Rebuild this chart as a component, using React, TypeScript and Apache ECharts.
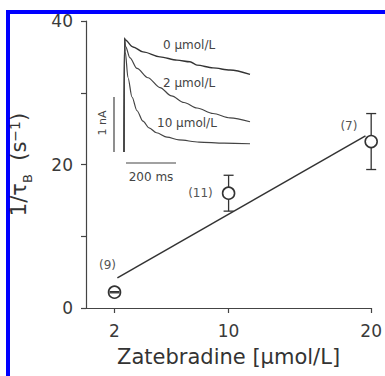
import React, { useEffect, useRef } from 'react';
import * as echarts from 'echarts';

// Main plot data
const xTicks = [2, 10, 20];
const yTicks = [0, 10, 20, 30, 40];
const yLabels = [0, 20, 40];
const conc = [2, 10, 20];
const rate = [2.2, 16.0, 23.2];
const rateErr = [0.08, 2.5, 3.9];
const nCells = [9, 11, 7];
const fitX = [2.2, 19.6];
const fitY = [4.2, 24.0];

// Inset current traces (time in ms, current in nA)
const traceT0 = [0, 2, 4, 36, 76, 144, 212, 264, 292, 356, 424, 504];
const traceV0 = [0, 2.07, 2.04, 1.91, 1.82, 1.73, 1.67, 1.64, 1.58, 1.53, 1.49, 1.41];
const traceT2 = [0, 2, 6, 24, 52, 96, 144, 190, 240, 292, 356, 424, 504];
const traceV2 = [0, 2.07, 1.92, 1.71, 1.52, 1.35, 1.17, 1.02, 0.9, 0.8, 0.7, 0.62, 0.55];
const traceT10 = [0, 2, 5, 16, 32, 52, 76, 100, 130, 172, 220, 300, 400, 504];
const traceV10 = [0, 2.07, 1.82, 1.35, 1.0, 0.75, 0.56, 0.44, 0.35, 0.27, 0.22, 0.18, 0.16, 0.15];
const traceNames = ['0 μmol/L', '2 μmol/L', '10 μmol/L'];

// Scale bars
const barNAt = [-40, -40];
const barNAv = [0, 1];
const barMsT = [8, 208];
const barMsV = [-0.2, -0.2];

const zip = (a: number[], b: number[]) => a.map((v, i) => [v, b[i]]);

export default function App() {
  const ref = useRef<HTMLDivElement>(null);
  useEffect(() => {
    const chart = echarts.init(ref.current!, null, { renderer: 'svg' });
    const font = 'DejaVu Sans';
    const ink = '#333';
    const axisColor = '#444';
    const labelPlace: any[] = [
      { position: 'top', distance: 5, offset: [-7, -9] },
      { position: 'left', distance: 9, offset: [0, 0] },
      { position: 'left', distance: 5, offset: [-2, -16] },
    ];
    const traceStyle = (color: string, w: number) => ({
      type: 'line', xAxisIndex: 1, yAxisIndex: 1, symbol: 'none',
      smooth: 0.3, smoothMonotone: 'x',
      lineStyle: { color, width: w }, silent: true,
    });
    const option: any = {
      animation: false,
      backgroundColor: '#fff',
      grid: [
        { left: 86, top: 21, width: 286, height: 287 },
        { left: 104, top: 31, width: 160, height: 143 },
      ],
      xAxis: [
        {
          type: 'value', gridIndex: 0, min: 0, max: 20,
          name: 'Zatebradine [μmol/L]', nameLocation: 'middle', nameGap: 38,
          nameTextStyle: { fontFamily: font, fontSize: 21, color: ink },
          axisLine: { show: true, onZero: false, lineStyle: { color: axisColor, width: 1.2 } },
          axisTick: { show: true, length: 5, customValues: xTicks, lineStyle: { color: axisColor, width: 1.2 } },
          axisLabel: { customValues: xTicks, margin: 14, fontFamily: font, fontSize: 17, color: '#3a3a3a' },
          splitLine: { show: false },
        },
        { type: 'value', gridIndex: 1, min: -80, max: 560, show: false },
      ],
      yAxis: [
        {
          type: 'value', gridIndex: 0, min: 0, max: 40,
          name: '{a|1/τ}{b|B}{a|  (s}{c|−1}{a|)}', nameLocation: 'middle', nameGap: 52,
          nameTextStyle: {
            fontFamily: font, fontSize: 21, color: ink,
            rich: {
              a: { fontFamily: font, fontSize: 21, color: ink, lineHeight: 26, verticalAlign: 'top' },
              b: { fontFamily: font, fontSize: 13, color: ink, lineHeight: 13, verticalAlign: 'bottom' },
              c: { fontFamily: font, fontSize: 14, color: ink, lineHeight: 14, verticalAlign: 'top' },
            },
          },
          axisLine: { show: true, onZero: false, lineStyle: { color: axisColor, width: 1.2 } },
          axisTick: { show: true, length: 5, customValues: yTicks, lineStyle: { color: axisColor, width: 1.2 } },
          axisLabel: { customValues: yLabels, margin: 13, fontFamily: font, fontSize: 17, color: '#3a3a3a' },
          splitLine: { show: false },
        },
        { type: 'value', gridIndex: 1, min: -0.4, max: 2.2, show: false },
      ],
      series: [
        {
          type: 'line', xAxisIndex: 0, yAxisIndex: 0, symbol: 'none', z: 2,
          data: zip(fitX, fitY), lineStyle: { color: ink, width: 1.5 },
        },
        {
          type: 'scatter', xAxisIndex: 0, yAxisIndex: 0, z: 3,
          symbol: 'circle', symbolSize: 12,
          itemStyle: { color: '#fff', borderColor: ink, borderWidth: 1.6, opacity: 1 },
          data: conc.map((c, i) => ({
            value: [c, rate[i]],
            label: {
              show: true, formatter: `(${nCells[i]})`,
              fontFamily: font, fontSize: 12, color: '#555',
              ...labelPlace[i],
            },
          })),
        },
        {
          type: 'custom', xAxisIndex: 0, yAxisIndex: 0, z: 4,
          data: conc.map((c, i) => [c, rate[i], rateErr[i]]),
          encode: { x: 0, y: 1 },
          renderItem: (params: any, api: any) => {
            const x = api.value(0), y = api.value(1), e = api.value(2);
            const c = api.coord([x, y]);
            const hi = api.coord([x, y + e]);
            const lo = api.coord([x, y - e]);
            const r = 6, w = 5;
            const style = { stroke: ink, lineWidth: 1.3 };
            const children: any[] = [
              { type: 'line', shape: { x1: c[0] - w, y1: hi[1], x2: c[0] + w, y2: hi[1] }, style },
              { type: 'line', shape: { x1: c[0] - w, y1: lo[1], x2: c[0] + w, y2: lo[1] }, style },
            ];
            if (hi[1] < c[1] - r) children.push({ type: 'line', shape: { x1: c[0], y1: hi[1], x2: c[0], y2: c[1] - r }, style });
            if (lo[1] > c[1] + r) children.push({ type: 'line', shape: { x1: c[0], y1: c[1] + r, x2: c[0], y2: lo[1] }, style });
            return { type: 'group', children };
          },
        },
        { ...traceStyle('#333', 1.4), name: traceNames[0], data: zip(traceT0, traceV0) },
        { ...traceStyle('#444', 1.2), name: traceNames[1], data: zip(traceT2, traceV2) },
        { ...traceStyle('#444', 1.2), name: traceNames[2], data: zip(traceT10, traceV10) },
        {
          type: 'line', xAxisIndex: 1, yAxisIndex: 1, symbol: 'none',
          data: zip(barNAt, barNAv), lineStyle: { color: '#444', width: 1.2 },
        },
        {
          type: 'line', xAxisIndex: 1, yAxisIndex: 1, symbol: 'none',
          data: zip(barMsT, barMsV), lineStyle: { color: '#444', width: 1.2 },
        },
      ],
      graphic: [
        { type: 'rect', shape: { x: 6, y: 10, width: 379, height: 4 }, style: { fill: '#0000ff' } },
        { type: 'rect', shape: { x: 6, y: 10, width: 4, height: 366 }, style: { fill: '#0000ff' } },
        { type: 'text', x: 163, y: 45, style: { text: traceNames[0], font: `12px "${font}"`, fill: '#444', textAlign: 'left', textVerticalAlign: 'middle' } },
        { type: 'text', x: 163, y: 83, style: { text: traceNames[1], font: `12px "${font}"`, fill: '#444', textAlign: 'left', textVerticalAlign: 'middle' } },
        { type: 'text', x: 157, y: 123, style: { text: traceNames[2], font: `12px "${font}"`, fill: '#444', textAlign: 'left', textVerticalAlign: 'middle' } },
        { type: 'text', x: 102, y: 123, rotation: Math.PI / 2, style: { text: '1 nA', font: `11px "${font}"`, fill: '#444', textAlign: 'center', textVerticalAlign: 'middle' } },
        { type: 'text', x: 151, y: 177, style: { text: '200 ms', font: `12px "${font}"`, fill: '#444', textAlign: 'center', textVerticalAlign: 'middle' } },
      ],
    };
    chart.setOption(option);
    return () => chart.dispose();
  }, []);
  return <div ref={ref} style={{ position: 'fixed', left: 0, top: 0, width: 385, height: 376 }} />;
}
